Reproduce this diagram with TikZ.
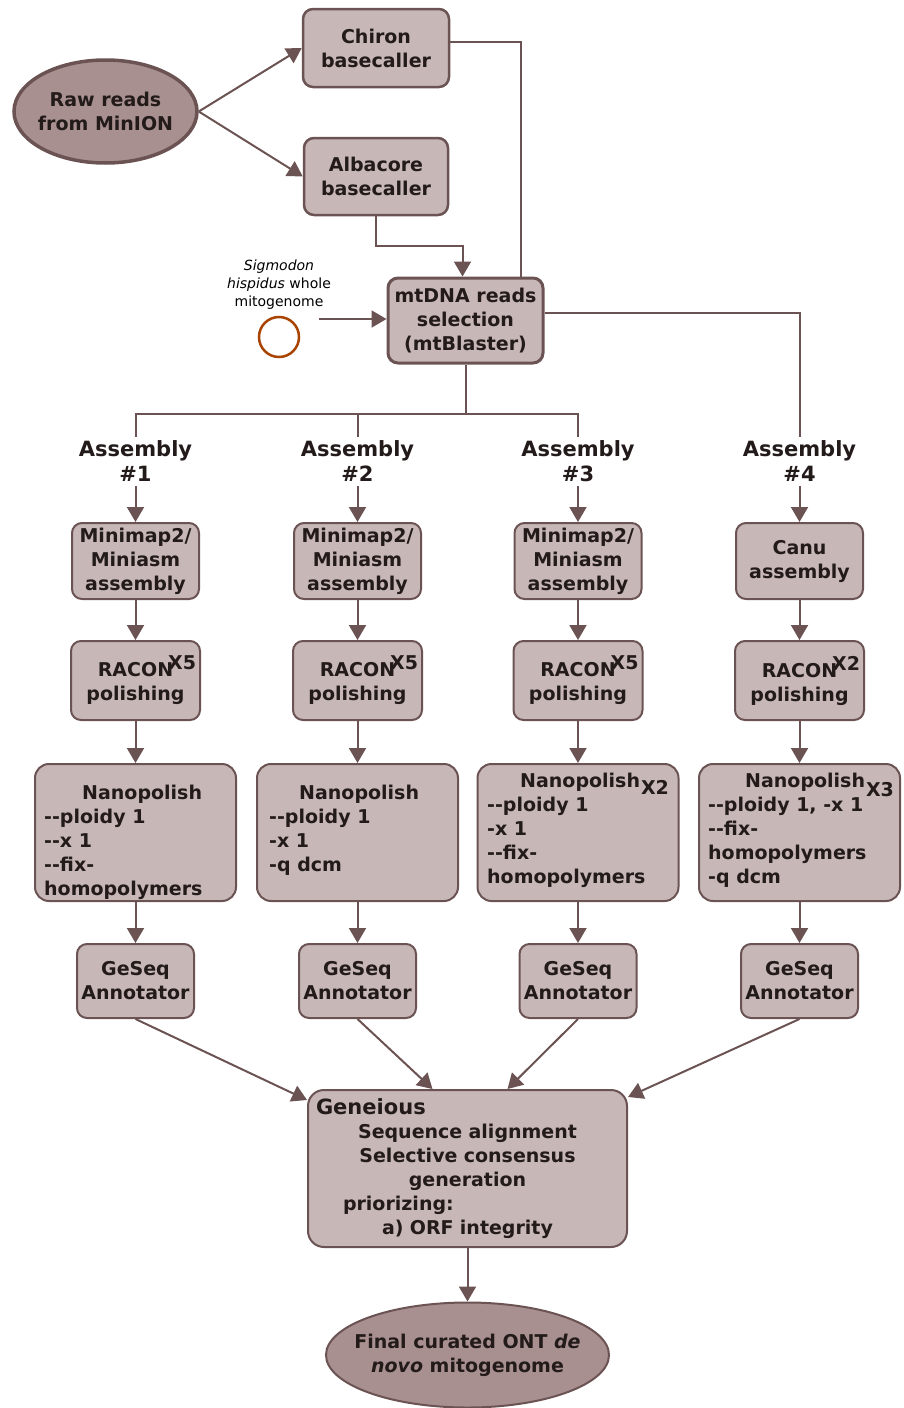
\documentclass[tikz,border=0pt]{standalone}
\usepackage{fontspec}
\setmainfont{DejaVu Sans}
\usetikzlibrary{arrows.meta,shapes.geometric}
\definecolor{boxfill}{HTML}{C7B7B7}
\definecolor{ovalfill}{HTML}{A89090}
\definecolor{edgecol}{HTML}{6B5353}
\definecolor{inkdark}{HTML}{231A1A}
\definecolor{rust}{HTML}{A84300}
\newcommand\mmtext{Minimap2/\\Miniasm\\assembly}
\newcommand\dblhy{-\kern0pt-}

\begin{document}
\begin{tikzpicture}[x=1pt,y=-1pt,
  stepbox/.style={draw=edgecol,line width=2pt,fill=boxfill,rounded corners=10pt,align=center,
                  text=inkdark,font=\fontsize{19}{24}\selectfont\bfseries,inner sep=0pt},
  oval/.style={ellipse,draw=edgecol,fill=ovalfill,inner sep=0pt},
  ovaltext/.style={align=center,text=inkdark,font=\fontsize{19}{24}\selectfont\bfseries,inner sep=0pt},
  nanotext/.style={anchor=north west,align=left,text=inkdark,font=\fontsize{19}{24}\selectfont\bfseries,inner sep=0pt},
  asmlbl/.style={align=center,text=inkdark,font=\fontsize{21}{25}\selectfont\bfseries,inner sep=4pt},
  conn/.style={draw=edgecol,line width=2pt},
  arr/.style={conn,-{Triangle[length=15pt,width=17pt]}}]
  \useasboundingbox (0,0) rectangle (904,1408);

  % input and basecalling
  \node[oval,line width=3.5pt,minimum width=183pt,minimum height=103pt] (raw) at (105.5,111.5) {};
  \node[ovaltext] (rawtxt) at (raw) {Raw reads\\from MinION};
  \node[stepbox,line width=2.5pt,minimum width=146pt,minimum height=78pt] (chiron) at (376,48) {Chiron\\basecaller};
  \node[stepbox,line width=2.5pt,minimum width=144pt,minimum height=77pt] (alb) at (376,176.5) {Albacore\\basecaller};
  \node[stepbox,line width=3pt,minimum width=155pt,minimum height=85pt] (mt) at (465.5,320.5) {mtDNA reads\\selection\\(mtBlaster)};
  \node[circle,draw=rust,line width=2.5pt,minimum size=40pt,inner sep=0pt] (genome) at (279,337) {};
  \node[align=center,font=\fontsize{14}{18}\selectfont,inner sep=0pt] (genomelbl) at (279,284.5)
        {\textit{Sigmodon}\\\textit{hispidus} whole\\mitogenome};
  \coordinate (refin) at (319,319);

  \draw[arr] (raw.east) -- (chiron.west);
  \draw[arr] (raw.east) -- (alb.west);
  \draw[conn] ([yshift=6pt]chiron.east) -| ([xshift=55pt]mt.north);
  \draw[arr] (alb.south) -- ++(0,30) -| ([xshift=-3pt]mt.north);
  \draw[arr] (refin) -- (refin -| mt.west);

  % the four assemblies
  \foreach \i/\x/\first/\rep in {1/135.5/\mmtext/5, 2/357.5/\mmtext/5, 3/578/\mmtext/5, 4/799.5/{Canu\\assembly}/2} {
    \node[asmlbl] (asm\i) at (\x,461.5) {Assembly\\\#\i};
    \node[stepbox,minimum width=127pt,minimum height=76pt] (map\i) at (\x,561) {\first};
    \node[stepbox,minimum width=129pt,minimum height=79pt] (racon\i) at (\x,680.5)
          {RACON\rlap{\kern-5pt\raisebox{7pt}{X\rep}}\\polishing};
    \node[stepbox,rounded corners=14pt,minimum width=201pt,minimum height=137pt] (nano\i) at (\x,832.5) {};
    \node[stepbox,minimum width=117pt,minimum height=74pt] (geseq\i) at (\x,981) {GeSeq\\Annotator};
    \draw[arr] (asm\i.south) -- (map\i.north);
    \draw[arr] (map\i) -- (racon\i);
    \draw[arr] (racon\i) -- (nano\i);
    \draw[arr] (nano\i) -- (geseq\i);
  }
  \node[nanotext] (nanotxt1) at (44,784.6)
        {\hspace*{38pt}Nanopolish\\\dblhy ploidy 1\\\dblhy x 1\\\dblhy fix-\\homopolymers};
  \node[nanotext] (nanotxt2) at (269,784.6)
        {\hspace*{30pt}Nanopolish\\\dblhy ploidy 1\\-x 1\\-q dcm};
  \node[nanotext] (nanotxt3) at (487,772.6)
        {\hspace*{33pt}Nanopolish\kern1pt\smash{\raisebox{-7pt}{X2}}\\\dblhy ploidy 1\\-x 1\\\dblhy fix-\\homopolymers};
  \node[nanotext] (nanotxt4) at (708,772.6)
        {\hspace*{37pt}Nanopolish\kern1pt\smash{\raisebox{-9pt}{X3}}\\\dblhy ploidy 1, -x 1\\\dblhy fix-\\homopolymers\\-q dcm};

  % split after read selection
  \draw[conn] (mt.south) -- ++(0,49) coordinate (bus);
  \draw[conn] (asm1.north) |- (bus) -| (asm3.north);
  \draw[conn] (asm2.north) -- (asm2.north |- bus);
  \draw[conn] ([yshift=8pt]mt.east) -| (asm4.north);

  % consensus
  \node[stepbox,rounded corners=16pt,minimum width=319pt,minimum height=157pt,text width=303pt] (geneious) at (467.5,1168.5)
        {\makebox[303pt][l]{\fontsize{21}{24}\selectfont Geneious}\\Sequence alignment\\Selective consensus\\generation\\
         \makebox[303pt][l]{\hspace*{27pt}priorizing:}\\a) ORF integrity};
  \node[oval,line width=2pt,minimum width=283pt,minimum height=105pt] (final) at (467.5,1355) {};
  \node[ovaltext] (finaltxt) at (final) {Final curated ONT \textit{de}\\\textit{novo} mitogenome};

  \draw[arr] (geseq1.south) -- ([yshift=-11pt]geneious.north west);
  \draw[arr] (geseq2.south) -- ([xshift=-35pt]geneious.north);
  \draw[arr] (geseq3.south) -- ([xshift=40pt]geneious.north);
  \draw[arr] (geseq4.south) -- ([yshift=-8pt]geneious.north east);
  \draw[arr] (geneious.south) -- (final.north);
\end{tikzpicture}
\end{document}
